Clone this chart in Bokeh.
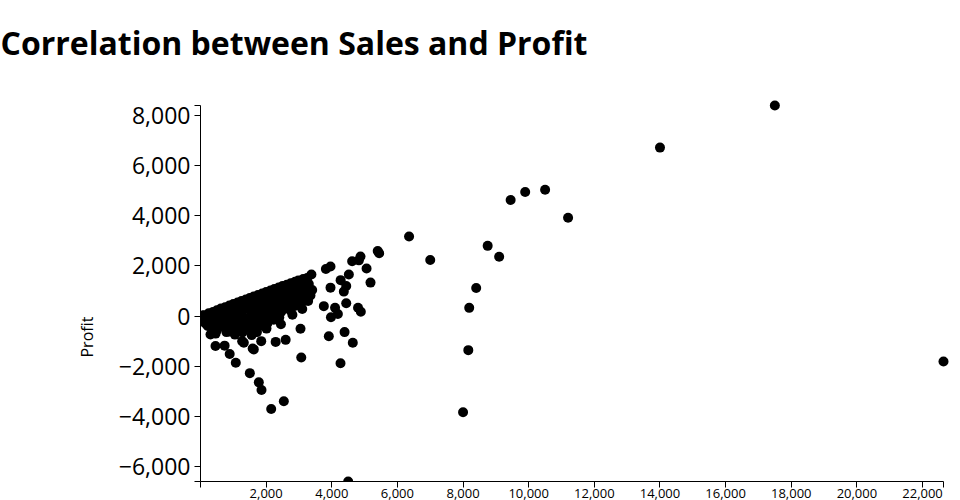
from bokeh.plotting import figure
from bokeh.models import Range1d, FixedTicker, NumeralTickFormatter, Title
from bokeh.embed import file_html
from bokeh.resources import INLINE

chart_title = "Correlation between Sales and Profit"
y_title = "Profit"

# Sales / Profit values (outliers exact-ish, dense cluster estimated)
sales = [
    17499.95, 13999.96, 10499.97, 9892.74, 9449.95, 11199.97, 6354.95, 8749.95, 9099.93,
    6999.96, 8399.98, 8187.65, 8159.95, 7999.98, 22638.48, 4499.99,
    5399.91, 5443.96, 4874.9, 4826.0, 4620.0, 5060.0, 5180.0, 4520.0, 4270.0, 4440.0, 4367.0,
    3961.0, 3820.0, 3380.0, 3961.0, 3403.0, 3148.0, 3758.0, 4100.0, 4440.0, 4800.0, 4885.0,
    3975.0, 4185.0, 4390.0, 4640.0, 3910.0, 3070.0, 4266.0, 3047.0, 2595.0, 2290.0, 2450.0,
    1850.0, 1590.0, 1503.0, 1777.0, 1859.0, 2539.0, 2154.0, 1075.0, 890.0, 457.0, 735.0,
    305.0, 1270.0, 1320.0, 1624.0,
    20.0, 60.0, 40.0, 80.0, 100.0,
    250.0, 230.0, 270.0, 220.0, 300.0,
    500.0, 520.0, 480.0, 540.0, 500.0, 460.0,
    750.0, 780.0, 720.0, 760.0, 740.0, 790.0,
    1000.0, 1020.0, 980.0, 1040.0, 1000.0, 960.0, 1050.0,
    1250.0, 1280.0, 1230.0, 1260.0, 1300.0, 1240.0, 1280.0,
    1500.0, 1520.0, 1480.0, 1540.0, 1500.0, 1470.0, 1530.0, 1560.0,
    1750.0, 1780.0, 1720.0, 1760.0, 1800.0, 1740.0, 1790.0, 1720.0,
    2000.0, 2030.0, 1980.0, 2050.0, 2000.0, 1970.0, 2040.0, 2010.0,
    2250.0, 2280.0, 2220.0, 2300.0, 2240.0, 2270.0, 2230.0,
    2500.0, 2530.0, 2480.0, 2550.0, 2500.0, 2460.0,
    2750.0, 2790.0, 2720.0, 2800.0, 2760.0, 2740.0, 2800.0,
    2980.0, 3040.0, 3000.0, 3080.0, 3020.0, 3100.0,
    3250.0, 3300.0, 3220.0, 3350.0, 3280.0,
    150.0, 380.0, 360.0, 400.0, 620.0, 640.0, 600.0, 880.0, 860.0, 900.0, 880.0,
    1130.0, 1120.0, 1150.0, 1100.0, 1380.0, 1400.0, 1370.0, 1420.0,
    1620.0, 1650.0, 1600.0, 1640.0, 1680.0, 1880.0, 1900.0, 1850.0, 1900.0,
    2130.0, 2150.0, 2120.0, 2160.0, 2380.0, 2400.0, 2360.0, 2400.0,
    2630.0, 2650.0, 2620.0, 2880.0, 2900.0, 2870.0, 3130.0, 3150.0, 3160.0,
]
profit = [
    8399.98, 6719.98, 5039.99, 4946.37, 4630.48, 3919.99, 3177.48, 2799.98, 2365.98,
    2239.99, 1119.99, 327.51, -1359.99, -3839.99, -1811.08, -6599.98,
    2591.96, 2504.22, 2374.0, 2222.0, 2190.0, 1895.0, 1335.0, 1658.0, 1433.0, 1200.0, 975.0,
    1980.0, 1880.0, 1658.0, 1133.0, 1038.0, 1433.0, 395.0, 330.0, 513.0, 330.0, 170.0,
    -51.0, 79.0, -640.0, -1066.0, -803.0, -1650.0, -1883.0, -505.0, -950.0, -1030.0, -330.0,
    -1000.0, -1295.0, -2277.0, -2645.0, -2948.0, -3395.0, -3711.0, -1860.0, -1510.0, -1197.0, -1180.0,
    -737.0, -1000.0, -1066.0, -1330.0,
    5.0, 20.0, -50.0, -120.0, 30.0,
    110.0, -60.0, -250.0, -400.0, 40.0,
    230.0, 60.0, -120.0, -330.0, -560.0, -700.0,
    350.0, 180.0, 0.0, -200.0, -420.0, -640.0,
    480.0, 290.0, 100.0, -100.0, -320.0, -560.0, -740.0,
    600.0, 400.0, 210.0, 20.0, -200.0, -430.0, -650.0,
    720.0, 520.0, 330.0, 130.0, -80.0, -300.0, -520.0, -760.0,
    840.0, 640.0, 450.0, 250.0, 50.0, -170.0, -400.0, -640.0,
    960.0, 760.0, 560.0, 360.0, 160.0, -60.0, -290.0, -500.0,
    1080.0, 880.0, 680.0, 480.0, 280.0, 60.0, -150.0,
    1200.0, 990.0, 790.0, 580.0, 380.0, 170.0,
    1310.0, 1100.0, 880.0, 660.0, 440.0, 220.0, 50.0,
    1420.0, 1200.0, 970.0, 740.0, 520.0, 280.0,
    1520.0, 1280.0, 1050.0, 820.0, 600.0,
    -300.0, 160.0, -180.0, -480.0, 300.0, -60.0, -420.0, 420.0, 60.0, -300.0, -620.0,
    540.0, 150.0, -250.0, -560.0, 660.0, 300.0, -100.0, -420.0,
    780.0, 420.0, 40.0, -420.0, -620.0, 900.0, 480.0, 80.0, -380.0,
    1020.0, 600.0, 200.0, -100.0, 1140.0, 700.0, 300.0, -60.0,
    1250.0, 800.0, 350.0, 1370.0, 900.0, 400.0, 1480.0, 1000.0, 600.0,
]

x_tick_values = [2000, 4000, 6000, 8000, 10000, 12000, 14000, 16000, 18000, 20000, 22000]
x_tick_labels = ["2,000", "4,000", "6,000", "8,000", "10,000", "12,000", "14,000",
                 "16,000", "18,000", "20,000", "22,000"]
y_tick_values = [-6000, -4000, -2000, 0, 2000, 4000, 6000, 8000]
y_tick_labels = ["\u22126,000", "\u22124,000", "\u22122,000", "0", "2,000", "4,000", "6,000", "8,000"]

FONT = "Open Sans"
W, H = 960, 500

x0, x1 = 0.0, max(sales)
y0, y1 = min(profit), max(profit)
# a few pixels of room past the top/right ends so the edge dots are not cut;
# the axis lines themselves stay bounded to the data extent
pad_x = 6 * (x1 - x0) / 743
pad_y = 6 * (y1 - y0) / 376

p = figure(width=W, height=H, output_backend="svg", toolbar_location=None, title=None,
           x_range=Range1d(x0, x1 + pad_x), y_range=Range1d(y0, y1 + pad_y),
           min_border_left=200, min_border_right=11, min_border_top=99, min_border_bottom=0)
p.outline_line_color = None
p.xgrid.visible = False
p.ygrid.visible = False
p.background_fill_color = "white"
p.border_fill_color = "white"

# spacer between the frame and the chart title, then the title itself (further out)
p.add_layout(Title(text=" ", text_font_size="1px", standoff=33), "above")
p.add_layout(Title(text=chart_title, text_font=FONT, text_font_style="bold",
                   text_font_size="32px", text_color="black", align="left",
                   offset=-200, standoff=0), "above")

# y axis title, shifted along the axis like the reference
p.add_layout(Title(text=y_title, align="left", offset=124, standoff=36,
                   text_font=FONT, text_font_style="normal", text_font_size="16px",
                   text_color="black"), "left")

# y axis
yax = p.yaxis[0]
yax.bounds = (y0, y1)
yax.ticker = FixedTicker(ticks=[y0] + y_tick_values + [y1])
ov = {y0: "", y1: ""}
for v, t in zip(y_tick_values, y_tick_labels):
    ov[v] = t
yax.major_label_overrides = ov
yax.formatter = NumeralTickFormatter(format="0,0")
yax.major_tick_in = 0
yax.major_tick_out = 6
yax.minor_tick_line_color = None
yax.major_label_standoff = 4
yax.major_label_text_font = FONT
yax.major_label_text_font_size = "23px"
yax.major_label_text_color = "black"
yax.axis_line_color = "black"
yax.major_tick_line_color = "black"

# x axis
xax = p.xaxis[0]
xax.bounds = (x0, x1)
xax.ticker = FixedTicker(ticks=[x0] + x_tick_values + [x1])
xov = {x0: "", x1: ""}
for v, t in zip(x_tick_values, x_tick_labels):
    xov[v] = t
xax.major_label_overrides = xov
xax.formatter = NumeralTickFormatter(format="0,0")
xax.major_label_text_font = FONT
xax.major_label_text_font_size = "13px"
xax.major_label_text_color = "black"
xax.major_label_standoff = 1
xax.major_tick_in = 0
xax.major_tick_out = 6
xax.minor_tick_line_color = None
xax.axis_line_color = "black"
xax.major_tick_line_color = "black"

p.scatter(sales, profit, size=10, fill_color="black", line_color="black", line_width=0)

open("out.html", "w").write(file_html(p, INLINE))
